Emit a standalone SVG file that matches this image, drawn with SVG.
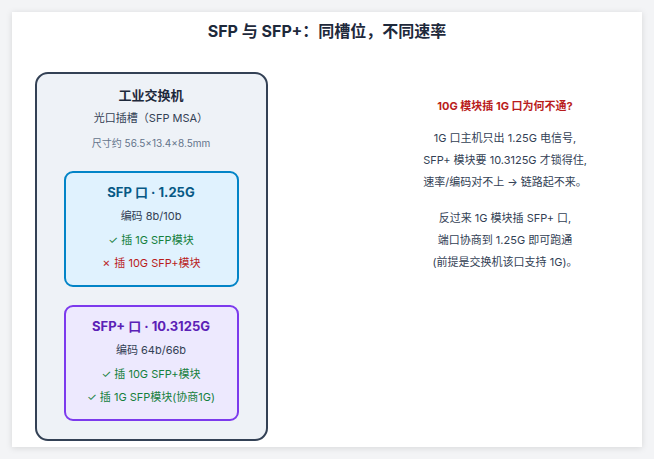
<svg xmlns="http://www.w3.org/2000/svg" width="654" height="459" viewBox="0 0 654 459">
<defs>
<filter id="sh" x="-5%" y="-5%" width="110%" height="110%"><feDropShadow dx="0" dy="1" stdDeviation="3" flood-color="#000" flood-opacity="0.12"/></filter>
<style>
text{font-family:Inter,"Noto Sans CJK SC",sans-serif;text-anchor:middle}
.t{font-size:13px;fill:#1e293b}
.s{font-size:11px;fill:#334155}
.g{font-size:11px;fill:#15803d}
.r{font-size:11px;fill:#b91c1c}
</style>
</defs>
<rect width="654" height="459" fill="#f3f4f6"/>
<rect x="12" y="12" width="630" height="435" fill="#ffffff" filter="url(#sh)"/>
<text x="327" y="37" font-size="16" font-weight="bold" fill="#1e293b">SFP 与 SFP+：同槽位，不同速率</text>
<g id="switch">
<rect x="36" y="73" width="231" height="367" rx="12" fill="#eef2f7" stroke="#334155" stroke-width="2"/>
<text x="151" y="100" class="t" font-weight="bold">工业交换机</text>
<text x="151" y="122" class="s">光口插槽（SFP MSA）</text>
<text x="151" y="147" font-size="10" fill="#64748b">尺寸约 56.5×13.4×8.5mm</text>
</g>
<g id="sfp">
<rect x="65" y="172" width="173" height="114" rx="8" fill="#e0f2fe" stroke="#0284c7" stroke-width="2"/>
<text x="151" y="197" font-size="13" font-weight="bold" fill="#075985">SFP 口 · 1.25G</text>
<text x="151" y="220" class="s" fill="#1e293b">编码 8b/10b</text>
<text x="151" y="244" class="g">✓ 插 1G SFP模块</text>
<text x="151" y="267" class="r">✗ 插 10G SFP+模块</text>
</g>
<g id="sfpplus">
<rect x="65" y="306" width="173" height="114" rx="8" fill="#ede9fe" stroke="#7c3aed" stroke-width="2"/>
<text x="151" y="331" font-size="13" font-weight="bold" fill="#5b21b6">SFP+ 口 · 10.3125G</text>
<text x="151" y="354" class="s" fill="#1e293b">编码 64b/66b</text>
<text x="151" y="378" class="g">✓ 插 10G SFP+模块</text>
<text x="151" y="401" class="g">✓ 插 1G SFP模块(协商1G)</text>
</g>
<g id="note">
<text x="505" y="110" font-size="11" font-weight="bold" fill="#b91c1c">10G 模块插 1G 口为何不通?</text>
<text x="505" y="142" class="s">1G 口主机只出 1.25G 电信号,</text>
<text x="505" y="164" class="s">SFP+ 模块要 10.3125G 才锁得住,</text>
<text x="505" y="186" class="s">速率/编码对不上 → 链路起不来。</text>
<text x="505" y="222" class="s">反过来 1G 模块插 SFP+ 口,</text>
<text x="505" y="244" class="s">端口协商到 1.25G 即可跑通</text>
<text x="505" y="266" class="s">(前提是交换机该口支持 1G)。</text>
</g>
<g id="connectors"/>
</svg>
